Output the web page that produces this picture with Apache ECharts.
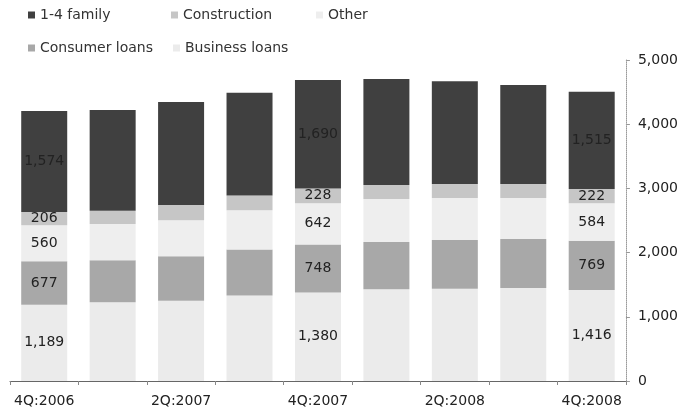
<!DOCTYPE html>
<html>
<head>
<meta charset="utf-8">
<script src="https://cdn.jsdelivr.net/npm/echarts@6/dist/echarts.min.js"></script>
<style>
  html, body { margin: 0; padding: 0; background: #fff; }
  #chart { width: 681px; height: 419px; }
</style>
</head>
<body>
<div id="chart"></div>
<script>
// Quarterly loan balances by type (stacked), in millions
const categories = ['4Q:2006', '1Q:2007', '2Q:2007', '3Q:2007', '4Q:2007', '1Q:2008', '2Q:2008', '3Q:2008', '4Q:2008'];
const businessLoans = [1189, 1225, 1250, 1330, 1380, 1430, 1435, 1450, 1416];
const consumerLoans = [677, 655, 695, 720, 748, 735, 760, 760, 769];
const otherLoans = [560, 565, 560, 610, 642, 670, 655, 640, 584];
const construction = [206, 205, 235, 230, 228, 218, 220, 220, 222];
const family14 = [1574, 1570, 1605, 1600, 1690, 1650, 1600, 1540, 1515];
const labeledIdx = [0, 4, 8];
const yTicks = { min: 0, max: 5000, interval: 1000 };

const FONT = 'DejaVu Sans';
const fmt = v => v.toLocaleString('en-US');

function seriesData(values) {
  return values.map((v, i) => ({
    value: v,
    label: { show: labeledIdx.includes(i) }
  }));
}

const seriesDefs = [
  { name: 'Business loans', data: businessLoans, color: '#ebebeb' },
  { name: 'Consumer loans', data: consumerLoans, color: '#a8a8a8' },
  { name: 'Other', data: otherLoans, color: '#eeeeee' },
  { name: 'Construction', data: construction, color: '#c6c6c6' },
  { name: '1-4 family', data: family14, color: '#404040' }
];

const legendPos = [
  { name: '1-4 family', left: 28, top: 8 },
  { name: 'Construction', left: 171, top: 8 },
  { name: 'Other', left: 316, top: 8 },
  { name: 'Consumer loans', left: 28, top: 41 },
  { name: 'Business loans', left: 173, top: 41 }
];

const chart = echarts.init(document.getElementById('chart'), null, { renderer: 'canvas' });
chart.setOption({
  animation: false,
  backgroundColor: '#fff',
  legend: legendPos.map(p => ({
    data: [p.name],
    left: p.left,
    top: p.top,
    padding: 0,
    itemWidth: 7,
    itemHeight: 7,
    itemGap: 0,
    icon: 'rect',
    selectedMode: false,
    textStyle: { fontFamily: FONT, fontSize: 14, color: '#333', padding: [0, 0, 0, 0] }
  })),
  grid: { left: 10, right: 53, top: 60, bottom: 38, containLabel: false },
  xAxis: {
    type: 'category',
    data: categories,
    axisLine: { lineStyle: { color: '#666', width: 1 } },
    axisTick: { show: true, interval: 0, length: 4, lineStyle: { color: '#888' } },
    axisLabel: { interval: 1, margin: 13, fontFamily: FONT, fontSize: 14, color: '#222' },
    splitLine: { show: false }
  },
  yAxis: {
    type: 'value',
    position: 'right',
    min: yTicks.min,
    max: yTicks.max,
    interval: yTicks.interval,
    axisLine: { show: true, lineStyle: { color: '#999', type: 'dotted', width: 1 } },
    axisTick: { show: true, inside: false, length: 4, lineStyle: { color: '#999' } },
    axisLabel: { margin: 12, fontFamily: FONT, fontSize: 14, color: '#222', formatter: v => fmt(v) },
    splitLine: { show: false }
  },
  series: seriesDefs.map(s => ({
    name: s.name,
    type: 'bar',
    stack: 'loans',
    barWidth: 46,
    data: seriesData(s.data),
    itemStyle: { color: s.color },
    label: {
      position: 'inside',
      fontFamily: FONT,
      fontSize: 14,
      color: '#222',
      formatter: p => fmt(p.value)
    }
  }))
});
</script>
</body>
</html>
